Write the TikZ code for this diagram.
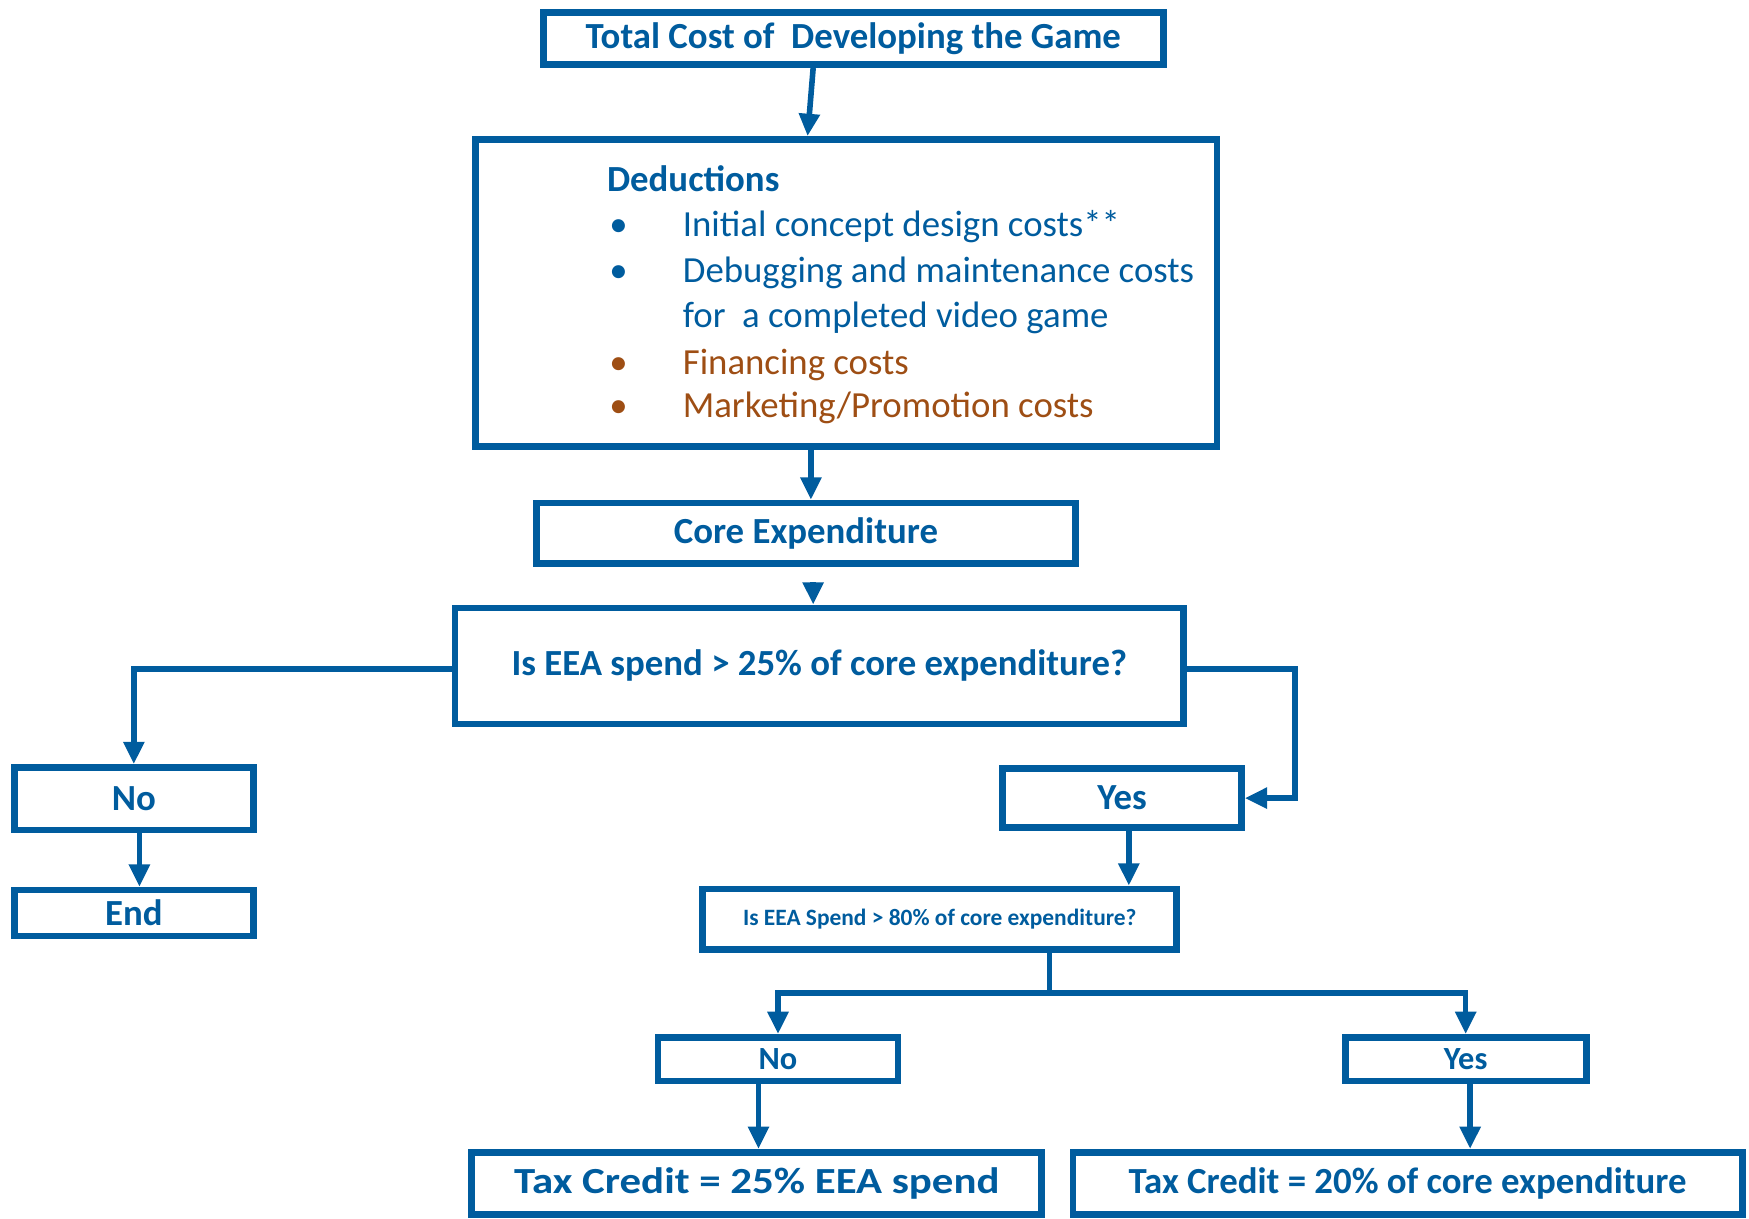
\documentclass[tikz,border=0pt]{standalone}
\usepackage{fontspec}
\setmainfont{Carlito}
\usetikzlibrary{arrows.meta,calc}
\definecolor{fblue}{RGB}{0,92,158}
\definecolor{fbrown}{RGB}{158,78,20}
\begin{document}
\begin{tikzpicture}[x=1pt,y=-1pt,
  box/.style={draw=fblue,line width=6pt,inner sep=0pt,text=fblue,
    font=\fontsize{33}{40}\selectfont\bfseries,align=center},
  conn/.style={draw=fblue,line width=5pt},
  arr/.style={conn,-{Triangle[length=20pt,width=18pt]}},
  item/.style={anchor=mid west,inner sep=0pt,font=\fontsize{33}{40}\selectfont},
  ]
\useasboundingbox (0,0) rectangle (1568,1092);

% boxes
\node[box,minimum width=556pt,minimum height=47pt] (top) at (765,34.5) {Total Cost of~ Developing the Game};
\node[box,minimum width=665pt,minimum height=275pt] (ded) at (758.5,262.5) {};
\node[box,minimum width=483pt,minimum height=54pt] (core) at (722.5,478) {Core Expenditure};
\node[box,minimum width=653pt,minimum height=104pt] (eea) at (734.5,597) {Is EEA spend > 25\% of core expenditure?};
\node[box,minimum width=214pt,minimum height=56pt] (no1) at (120,716) {No};
\node[box,minimum width=214pt,minimum height=41pt] (end) at (120,818.5) {End};
\node[box,minimum width=214pt,minimum height=53pt] (yes1) at (1006,715.5) {Yes};
\node[box,minimum width=425pt,minimum height=54pt,font=\fontsize{21}{25}\selectfont\bfseries] (eea80) at (842.5,824) {Is EEA Spend > 80\% of core expenditure?};
\node[box,minimum width=215pt,minimum height=39pt,font=\fontsize{29}{34}\selectfont\bfseries] (no2) at (697.5,949.5) {No};
\node[box,minimum width=216pt,minimum height=39pt,font=\fontsize{29}{34}\selectfont\bfseries] (yes2) at (1314,949.5) {Yes};
\node[box,minimum width=511pt,minimum height=56pt] (taxno) at (678.5,1061) {\scalebox{1.165}[1]{Tax Credit = 25\% EEA spend}};
\node[box,minimum width=600pt,minimum height=56pt] (taxyes) at (1262,1061) {Tax Credit = 20\% of core expenditure};

% deductions content
\node[item,text=fblue,font=\fontsize{33}{40}\selectfont\bfseries] (dtitle) at (544,169) {Deductions};
\node[item,text=fblue] (b1) at (546,210) {•};
\node[item,text=fblue] (t1) at (612,210) {Initial concept design costs**};
\node[item,text=fblue] (b2) at (546,251) {•};
\node[item,text=fblue] (t2) at (612,251) {Debugging and maintenance costs};
\node[item,text=fblue] (t3) at (612,291) {for~ a completed video game};
\node[item,text=fbrown] (b4) at (546,333) {•};
\node[item,text=fbrown] (t4) at (612,333) {Financing costs};
\node[item,text=fbrown] (b5) at (546,372) {•};
\node[item,text=fbrown] (t5) at (612,372) {Marketing/Promotion costs};

% connectors
\draw[arr] ($(top.south)+(-36,0)$) -- ($(ded.north)+(-34.5,0)$);
\draw[arr] ($(ded.south)+(-31.5,0)$) -- ($(core.north)+(4.5,0)$);
\draw[arr] ($(eea.north)+(-5.5,-20)$) -- ($(eea.north)+(-5.5,0)$);
\draw[arr] ($(eea.west)+(0,3)$) -| (no1.north);
\draw[arr] ($(eea.east)+(0,3)$) -- ++(97,0) |- (yes1.east);
\coordinate (a1) at ($(no1.south)+(5,0)$);
\draw[arr] (a1) -- (a1 |- end.north);
\coordinate (a2) at ($(yes1.south)+(6,0)$);
\draw[arr] (a2) -- (a2 |- eea80.north);
\coordinate (sp) at ($(eea80.south)+(98.5,0)$);
\coordinate (jn) at ($(sp)+(0,36)$);
\draw[conn] (sp) -- (jn);
\draw[arr] (jn) -| (no2.north);
\draw[arr] (jn) -| (yes2.north);
\coordinate (a3) at ($(no2.south)+(-17.5,0)$);
\draw[arr] (a3) -- (a3 |- taxno.north);
\coordinate (a4) at ($(yes2.south)+(4,0)$);
\draw[arr] (a4) -- (a4 |- taxyes.north);
\end{tikzpicture}
\end{document}
